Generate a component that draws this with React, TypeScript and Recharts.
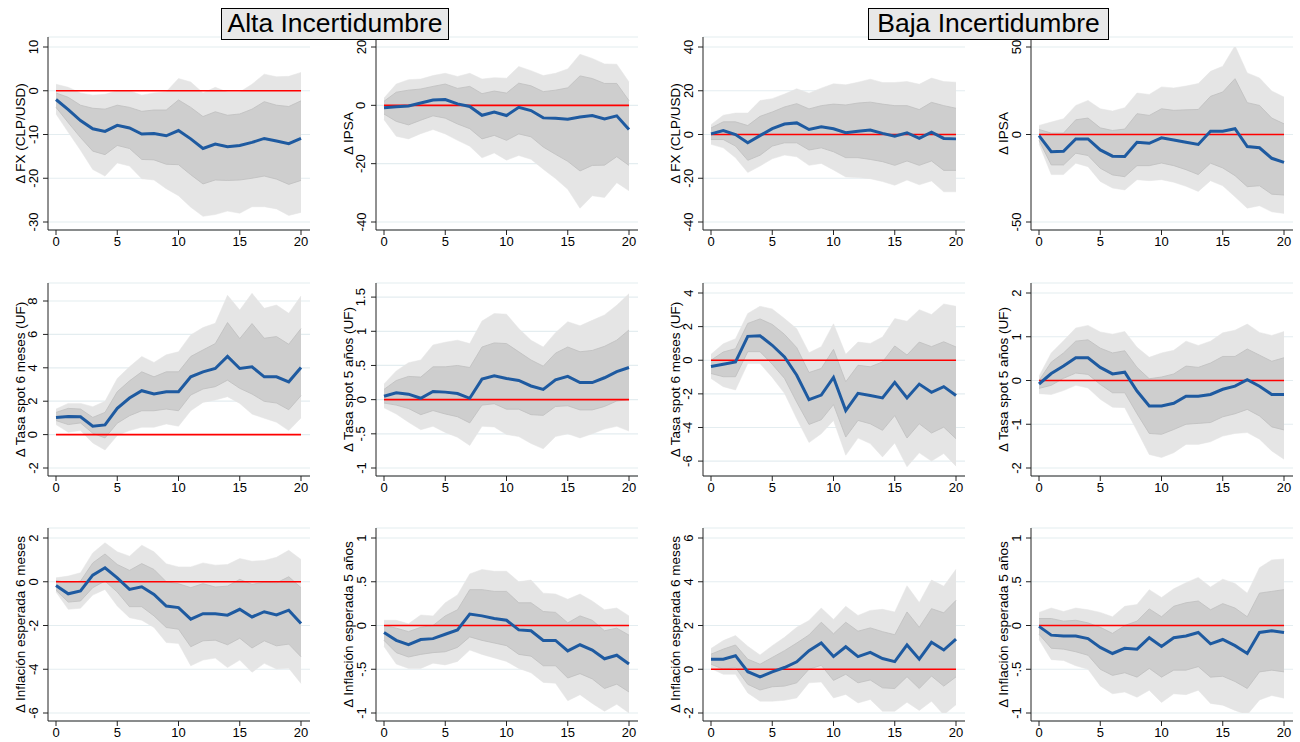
import React from "react";
import {
  Area,
  CartesianGrid,
  ComposedChart,
  Line,
  XAxis,
  YAxis,
} from "recharts";

const horizon = [0, 1, 2, 3, 4, 5, 6, 7, 8, 9, 10, 11, 12, 13, 14, 15, 16, 17, 18, 19, 20];

// Alta incertidumbre: FX
const altaFxIrf = [-2.0, -4.3, -6.8, -8.7, -9.3, -7.9, -8.5, -9.9, -9.8, -10.3, -9.1, -11.0, -13.2, -12.2, -12.8, -12.5, -11.8, -10.9, -11.5, -12.1, -10.9];
const altaFxHi90 = [1.5, 0.8, -0.5, -1.0, -0.8, 0, 0, -1.0, -0.5, -0.2, 2.8, 2.0, -0.5, 0.8, -0.3, -0.3, 1.5, 3.8, 3.2, 3.3, 4.2];
const altaFxHi68 = [-0.5, -1.5, -3.3, -4.0, -4.2, -3.3, -3.8, -4.7, -4.4, -4.4, -2.1, -3.8, -5.9, -4.8, -5.6, -5.3, -4.2, -2.5, -3.3, -3.6, -2.3];
const altaFxLo68 = [-3.8, -7.3, -10.7, -13.8, -14.6, -12.5, -13.2, -15.7, -15.8, -16.8, -16.9, -19.2, -21.3, -20.4, -20.5, -20.4, -20.0, -19.5, -20.2, -21.4, -20.5];
const altaFxLo90 = [-5.3, -9.5, -13.6, -18.0, -19.5, -16.5, -17.2, -20.1, -20.4, -22.4, -24.0, -26.6, -28.7, -28.3, -27.5, -28.0, -26.5, -26.5, -27.0, -28.5, -27.8];

// Alta incertidumbre: IPSA
const altaIpsaIrf = [-0.8, -0.5, -0.2, 0.8, 1.8, 2.0, 0.5, -0.4, -3.4, -2.3, -3.5, -0.7, -1.8, -4.3, -4.4, -4.8, -4.0, -3.5, -4.7, -3.6, -8.3];
const altaIpsaHi90 = [2.5, 7.3, 8.8, 9.0, 10.2, 11.0, 9.9, 11.0, 9.0, 9.5, 9.3, 13.3, 11.9, 10.2, 11.0, 12.5, 17.5, 16.1, 14.2, 14.1, 8.0];
const altaIpsaHi68 = [1.4, 4.5, 5.2, 5.6, 6.5, 7.3, 5.8, 6.5, 4.0, 4.9, 4.2, 7.6, 6.7, 4.7, 5.2, 6.0, 10.1, 9.2, 7.5, 7.5, 1.6];
const altaIpsaLo68 = [-3.0, -5.5, -6.7, -5.1, -3.6, -4.4, -6.4, -8.0, -11.5, -10.3, -12.0, -9.8, -10.8, -14.3, -16.8, -19.2, -22.5, -20.6, -20.5, -17.6, -20.6];
const altaIpsaLo90 = [-4.9, -10.6, -11.5, -9.7, -8.3, -9.8, -12.0, -14.0, -18.0, -16.3, -18.8, -17.2, -18.5, -21.9, -25.1, -28.8, -35.3, -31.0, -31.6, -26.5, -29.3];

// Baja incertidumbre: FX
const bajaFxIrf = [0.3, 1.8, 0, -3.8, -0.5, 2.7, 4.8, 5.3, 2.3, 3.5, 2.6, 0.8, 1.5, 2.0, 0.5, -0.8, 0.8, -1.8, 1.1, -1.8, -2.0];
const bajaFxHi90 = [4.5, 8.8, 9.8, 9.8, 15.5, 16.4, 18.5, 20.9, 18.9, 21.2, 23.2, 22.7, 23.9, 25.3, 23.8, 23.8, 24.2, 23.0, 25.8, 24.2, 23.9];
const bajaFxHi68 = [3.0, 5.8, 5.8, 4.1, 8.3, 10.3, 12.6, 14.1, 11.7, 13.2, 13.9, 13.5, 14.4, 14.8, 13.9, 13.2, 13.2, 11.4, 14.7, 13.2, 12.0];
const bajaFxLo68 = [-2.3, -2.3, -5.3, -11.8, -9.5, -5.3, -3.8, -3.8, -7.1, -6.1, -7.9, -10.6, -10.6, -11.4, -12.4, -14.1, -12.1, -14.1, -12.1, -16.4, -16.4];
const bajaFxLo90 = [-4.5, -6.1, -10.6, -17.4, -14.4, -11.1, -9.4, -10.2, -14.1, -13.2, -16.2, -19.4, -19.7, -20.2, -21.5, -23.2, -20.8, -23.0, -21.2, -26.2, -26.2];

// Baja incertidumbre: IPSA
const bajaIpsaIrf = [-0.6, -9.8, -9.6, -2.5, -2.5, -8.8, -12.4, -12.6, -4.4, -5.0, -1.9, -3.1, -4.4, -5.7, 1.9, 1.9, 3.3, -6.9, -7.6, -13.6, -15.9];
const bajaIpsaHi90 = [5.2, 7.1, 9.0, 16.6, 19.5, 14.7, 13.4, 15.3, 23.7, 22.9, 27.2, 26.6, 27.7, 29.1, 36.1, 39.0, 50.7, 35.2, 32.3, 24.9, 21.4];
const bajaIpsaHi68 = [2.9, 0.8, 0.8, 8.4, 9.4, 3.8, 2.3, 3.1, 11.9, 10.9, 14.7, 13.8, 14.1, 14.3, 21.8, 24.3, 31.9, 18.2, 16.6, 9.4, 6.1];
const bajaIpsaLo68 = [-3.4, -17.4, -17.4, -10.7, -12.0, -19.3, -23.1, -24.1, -17.8, -17.8, -16.3, -17.8, -20.1, -22.9, -16.4, -19.1, -23.5, -29.8, -29.3, -34.1, -34.6];
const bajaIpsaLo90 = [-5.4, -22.9, -22.9, -16.4, -18.4, -26.8, -30.6, -31.7, -25.8, -26.4, -25.8, -27.3, -29.6, -32.5, -26.4, -29.3, -35.6, -42.1, -40.7, -44.2, -45.1];

// Alta incertidumbre: tasa spot 6 meses
const altaS6Irf = [1.03, 1.09, 1.07, 0.5, 0.58, 1.57, 2.19, 2.63, 2.43, 2.57, 2.57, 3.46, 3.76, 3.96, 4.68, 3.96, 4.06, 3.46, 3.46, 3.16, 4.02];
const altaS6Hi90 = [1.53, 1.87, 1.87, 1.67, 1.99, 3.36, 4.06, 4.68, 4.32, 4.78, 4.96, 5.97, 6.41, 6.67, 8.34, 7.46, 8.46, 7.56, 7.76, 7.26, 8.3];
const altaS6Hi68 = [1.33, 1.57, 1.53, 1.03, 1.33, 2.57, 3.22, 3.76, 3.46, 3.76, 3.76, 4.68, 5.07, 5.45, 6.71, 5.75, 6.65, 5.77, 5.87, 5.41, 6.35];
const altaS6Lo68 = [0.84, 0.6, 0.7, 0.08, -0.2, 0.68, 1.13, 1.43, 1.43, 1.53, 1.43, 2.37, 2.73, 2.87, 3.26, 2.77, 2.43, 1.99, 1.89, 1.49, 2.33];
const altaS6Lo90 = [0.6, 0.14, 0.24, -0.5, -0.92, -0.06, 0.24, 0.44, 0.44, 0.64, 0.5, 1.43, 1.93, 2.07, 2.27, 1.87, 1.23, 0.98, 0.74, 0.24, 1.0];

// Alta incertidumbre: tasa spot 5 años
const altaS5Irf = [0.05, 0.1, 0.08, 0.02, 0.12, 0.11, 0.09, 0.02, 0.3, 0.35, 0.31, 0.28, 0.2, 0.15, 0.29, 0.34, 0.25, 0.25, 0.32, 0.41, 0.47];
const altaS5Hi90 = [0.23, 0.42, 0.54, 0.58, 0.8, 0.84, 0.87, 0.82, 1.15, 1.26, 1.25, 1.04, 0.87, 0.77, 0.98, 1.14, 1.08, 1.16, 1.24, 1.38, 1.55];
const altaS5Hi68 = [0.15, 0.28, 0.34, 0.33, 0.48, 0.48, 0.5, 0.47, 0.77, 0.83, 0.82, 0.7, 0.58, 0.49, 0.68, 0.77, 0.7, 0.72, 0.78, 0.87, 1.02];
const altaS5Lo68 = [-0.05, -0.08, -0.13, -0.22, -0.16, -0.21, -0.25, -0.34, -0.08, -0.06, -0.14, -0.14, -0.22, -0.23, -0.1, -0.09, -0.15, -0.15, -0.1, -0.02, 0];
const altaS5Lo90 = [-0.12, -0.21, -0.33, -0.44, -0.39, -0.48, -0.55, -0.67, -0.39, -0.4, -0.51, -0.54, -0.64, -0.72, -0.54, -0.5, -0.56, -0.5, -0.43, -0.39, -0.46];

// Baja incertidumbre: tasa spot 6 meses
const bajaS6Irf = [-0.37, -0.24, -0.1, 1.42, 1.46, 0.89, 0.2, -0.89, -2.34, -2.07, -1.02, -2.99, -1.97, -2.1, -2.24, -1.32, -2.24, -1.42, -1.91, -1.57, -2.1];
const bajaS6Hi90 = [0.35, 0.98, 1.28, 2.78, 3.21, 3.05, 2.48, 1.87, 0.45, 0.81, 2.17, 0.35, 1.08, 1.0, 1.38, 2.48, 2.32, 3.01, 2.72, 3.35, 3.21];
const bajaS6Hi68 = [0, 0.49, 0.69, 2.19, 2.46, 2.13, 1.54, 0.75, -0.73, -0.49, 0.65, -1.28, -0.3, -0.39, -0.1, 0.85, 0.31, 1.08, 0.81, 1.1, 0.79];
const bajaS6Lo68 = [-0.79, -0.98, -0.98, 0.51, 0.51, -0.24, -1.08, -2.5, -3.82, -3.54, -2.64, -4.57, -3.58, -3.78, -4.17, -3.29, -4.63, -3.78, -4.33, -3.98, -4.67];
const bajaS6Lo90 = [-1.08, -1.57, -1.77, -0.2, -0.2, -1.02, -1.97, -3.48, -4.9, -4.37, -3.58, -5.65, -4.63, -4.96, -5.75, -4.92, -6.34, -5.51, -6.0, -5.55, -6.3];

// Baja incertidumbre: tasa spot 5 años
const bajaS5Irf = [-0.08, 0.16, 0.33, 0.52, 0.52, 0.3, 0.15, 0.19, -0.24, -0.58, -0.58, -0.52, -0.36, -0.36, -0.32, -0.2, -0.13, 0.02, -0.13, -0.32, -0.32];
const bajaS5Hi90 = [0.1, 0.63, 0.91, 1.2, 1.26, 1.11, 1.06, 1.12, 0.76, 0.53, 0.63, 0.69, 0.9, 0.8, 0.9, 1.09, 1.15, 1.29, 1.1, 1.03, 1.12];
const bajaS5Hi68 = [0, 0.42, 0.63, 0.9, 0.93, 0.74, 0.63, 0.68, 0.3, 0.04, 0.08, 0.15, 0.33, 0.3, 0.4, 0.55, 0.55, 0.72, 0.58, 0.44, 0.52];
const bajaS5Lo68 = [-0.18, -0.11, 0.05, 0.17, 0.14, -0.09, -0.28, -0.28, -0.76, -1.21, -1.23, -1.12, -1.0, -0.98, -0.96, -0.83, -0.76, -0.66, -0.81, -1.06, -1.13];
const bajaS5Lo90 = [-0.3, -0.32, -0.23, -0.11, -0.17, -0.43, -0.61, -0.62, -1.15, -1.69, -1.76, -1.65, -1.46, -1.46, -1.4, -1.27, -1.21, -1.19, -1.34, -1.61, -1.8];

// Alta incertidumbre: inflación esperada 6 meses
const altaI6Irf = [-0.17, -0.55, -0.42, 0.3, 0.64, 0.18, -0.35, -0.23, -0.58, -1.11, -1.18, -1.71, -1.46, -1.46, -1.53, -1.26, -1.61, -1.37, -1.52, -1.3, -1.91];
const altaI6Hi90 = [0.18, 0.26, 0.41, 1.32, 1.78, 1.37, 1.17, 1.67, 1.37, 0.82, 0.68, 0.68, 0.86, 0.76, 0.79, 1.06, 0.94, 0.97, 1.12, 1.44, 1.02];
const altaI6Hi68 = [0.06, -0.05, 0.03, 0.86, 1.27, 0.79, 0.52, 0.83, 0.56, 0, -0.09, -0.27, -0.09, -0.24, -0.2, 0.11, -0.12, -0.02, -0.05, 0.23, -0.27];
const altaI6Lo68 = [-0.39, -0.93, -0.88, -0.27, 0.03, -0.47, -1.14, -1.14, -1.56, -2.09, -2.17, -2.97, -2.7, -2.67, -2.88, -2.58, -3.03, -2.7, -2.93, -2.85, -3.43];
const altaI6Lo90 = [-0.47, -1.26, -1.21, -0.61, -0.35, -1.11, -1.64, -1.76, -2.09, -2.78, -2.82, -3.84, -3.58, -3.49, -3.92, -3.58, -4.14, -3.73, -3.99, -3.95, -4.65];

// Alta incertidumbre: inflación esperada 5 años
const altaI5Irf = [-0.08, -0.17, -0.22, -0.16, -0.15, -0.1, -0.05, 0.13, 0.11, 0.08, 0.06, -0.05, -0.06, -0.17, -0.17, -0.29, -0.22, -0.28, -0.38, -0.34, -0.44];
const altaI5Hi90 = [0.06, 0.06, 0.02, 0.12, 0.11, 0.26, 0.35, 0.59, 0.64, 0.62, 0.62, 0.5, 0.52, 0.37, 0.36, 0.3, 0.36, 0.28, 0.18, 0.2, 0.11];
const altaI5Hi68 = [0, -0.03, -0.07, -0.02, 0, 0.11, 0.18, 0.41, 0.41, 0.39, 0.39, 0.26, 0.26, 0.16, 0.15, 0.03, 0.11, 0.06, -0.06, -0.03, -0.11];
const altaI5Lo68 = [-0.17, -0.31, -0.36, -0.33, -0.31, -0.3, -0.25, -0.13, -0.17, -0.2, -0.23, -0.33, -0.35, -0.46, -0.46, -0.6, -0.55, -0.61, -0.72, -0.67, -0.76];
const altaI5Lo90 = [-0.24, -0.44, -0.49, -0.49, -0.43, -0.45, -0.41, -0.28, -0.33, -0.37, -0.41, -0.49, -0.54, -0.65, -0.66, -0.86, -0.79, -0.89, -0.98, -0.9, -1.0];

// Baja incertidumbre: inflación esperada 6 meses
const bajaI6Irf = [0.46, 0.46, 0.62, -0.11, -0.35, -0.12, 0.08, 0.34, 0.85, 1.2, 0.58, 1.03, 0.58, 0.77, 0.49, 0.35, 1.11, 0.46, 1.23, 0.88, 1.38];
const bajaI6Hi90 = [0.95, 1.31, 1.54, 1.05, 0.65, 1.08, 1.46, 1.92, 2.23, 2.8, 2.28, 2.88, 2.46, 2.69, 2.74, 2.62, 3.82, 3.05, 4.08, 3.8, 4.57];
const bajaI6Hi68 = [0.69, 0.92, 1.11, 0.46, 0.23, 0.54, 0.85, 1.2, 1.57, 2.15, 1.62, 2.15, 1.74, 1.89, 1.72, 1.58, 2.62, 1.92, 2.77, 2.58, 3.15];
const bajaI6Lo68 = [0.23, 0, 0.08, -0.69, -0.95, -0.8, -0.77, -0.62, 0, 0.18, -0.51, -0.23, -0.62, -0.49, -0.85, -0.88, -0.34, -0.88, -0.31, -0.77, -0.35];
const bajaI6Lo90 = [0.03, -0.23, -0.23, -1.08, -1.46, -1.46, -1.42, -1.31, -0.62, -0.58, -1.31, -1.15, -1.54, -1.38, -1.92, -1.92, -1.51, -1.88, -1.46, -2.08, -1.62];

// Baja incertidumbre: inflación esperada 5 años
const bajaI5Irf = [-0.01, -0.11, -0.12, -0.12, -0.15, -0.25, -0.32, -0.26, -0.27, -0.14, -0.24, -0.14, -0.12, -0.08, -0.21, -0.16, -0.23, -0.32, -0.08, -0.06, -0.08];
const bajaI5Hi90 = [0.15, 0.2, 0.16, 0.2, 0.18, 0.15, 0.1, 0.22, 0.24, 0.41, 0.32, 0.42, 0.49, 0.55, 0.44, 0.53, 0.48, 0.37, 0.66, 0.75, 0.76];
const bajaI5Hi68 = [0.08, 0.08, 0.05, 0.06, 0.03, -0.02, -0.09, 0, 0.05, 0.19, 0.1, 0.22, 0.26, 0.28, 0.18, 0.25, 0.2, 0.1, 0.37, 0.39, 0.41];
const bajaI5Lo68 = [-0.1, -0.26, -0.27, -0.3, -0.34, -0.5, -0.57, -0.54, -0.59, -0.49, -0.59, -0.51, -0.51, -0.47, -0.59, -0.58, -0.64, -0.72, -0.53, -0.51, -0.53];
const bajaI5Lo90 = [-0.16, -0.39, -0.4, -0.46, -0.5, -0.69, -0.78, -0.76, -0.82, -0.74, -0.88, -0.78, -0.79, -0.74, -0.89, -0.91, -0.97, -1.02, -0.85, -0.8, -0.83];

const xTicks = [0, 5, 10, 15, 20];

const FONT = "'Liberation Sans', Arial, Helvetica, sans-serif";
const BAND90 = "#e5e5e5";
const BAND68 = "#cecece";
const IRF_BLUE = "#1e5aa0";

// plot frame geometry (axis lines), in page pixels
const colX = [48, 376, 703, 1031];
const rowTop = [37, 283, 528];
const PLOT_W = 262;
const PLOT_H = 193;
const AXIS_W = 48;

type PanelSpec = {
  label: string;
  col: number;
  row: number;
  domain: [number, number];
  ticks: number[];
  irf: number[];
  lo90: number[];
  hi90: number[];
  lo68: number[];
  hi68: number[];
};

const panels: PanelSpec[] = [
  { label: "Δ FX (CLP/USD)", col: 0, row: 0, domain: [-30, 10], ticks: [-30, -20, -10, 0, 10], irf: altaFxIrf, lo90: altaFxLo90, hi90: altaFxHi90, lo68: altaFxLo68, hi68: altaFxHi68 },
  { label: "Δ IPSA", col: 1, row: 0, domain: [-40, 20], ticks: [-40, -20, 0, 20], irf: altaIpsaIrf, lo90: altaIpsaLo90, hi90: altaIpsaHi90, lo68: altaIpsaLo68, hi68: altaIpsaHi68 },
  { label: "Δ FX (CLP/USD)", col: 2, row: 0, domain: [-40, 40], ticks: [-40, -20, 0, 20, 40], irf: bajaFxIrf, lo90: bajaFxLo90, hi90: bajaFxHi90, lo68: bajaFxLo68, hi68: bajaFxHi68 },
  { label: "Δ IPSA", col: 3, row: 0, domain: [-50, 50], ticks: [-50, 0, 50], irf: bajaIpsaIrf, lo90: bajaIpsaLo90, hi90: bajaIpsaHi90, lo68: bajaIpsaLo68, hi68: bajaIpsaHi68 },
  { label: "Δ Tasa spot 6 meses (UF)", col: 0, row: 1, domain: [-2, 8.48], ticks: [-2, 0, 2, 4, 6, 8], irf: altaS6Irf, lo90: altaS6Lo90, hi90: altaS6Hi90, lo68: altaS6Lo68, hi68: altaS6Hi68 },
  { label: "Δ Tasa spot 5 años (UF)", col: 1, row: 1, domain: [-1, 1.56], ticks: [-1, -0.5, 0, 0.5, 1, 1.5], irf: altaS5Irf, lo90: altaS5Lo90, hi90: altaS5Hi90, lo68: altaS5Lo68, hi68: altaS5Hi68 },
  { label: "Δ Tasa spot 6 meses (UF)", col: 2, row: 1, domain: [-6.41, 4], ticks: [-6, -4, -2, 0, 2, 4], irf: bajaS6Irf, lo90: bajaS6Lo90, hi90: bajaS6Hi90, lo68: bajaS6Lo68, hi68: bajaS6Hi68 },
  { label: "Δ Tasa spot 5 años (UF)", col: 3, row: 1, domain: [-2, 2], ticks: [-2, -1, 0, 1, 2], irf: bajaS5Irf, lo90: bajaS5Lo90, hi90: bajaS5Hi90, lo68: bajaS5Lo68, hi68: bajaS5Hi68 },
  { label: "Δ Inflación esperada 6 meses", col: 0, row: 2, domain: [-6, 2], ticks: [-6, -4, -2, 0, 2], irf: altaI6Irf, lo90: altaI6Lo90, hi90: altaI6Hi90, lo68: altaI6Lo68, hi68: altaI6Hi68 },
  { label: "Δ Inflación esperada 5 años", col: 1, row: 2, domain: [-1, 1], ticks: [-1, -0.5, 0, 0.5, 1], irf: altaI5Irf, lo90: altaI5Lo90, hi90: altaI5Hi90, lo68: altaI5Lo68, hi68: altaI5Hi68 },
  { label: "Δ Inflación esperada 6 meses", col: 2, row: 2, domain: [-2, 6], ticks: [-2, 0, 2, 4, 6], irf: bajaI6Irf, lo90: bajaI6Lo90, hi90: bajaI6Hi90, lo68: bajaI6Lo68, hi68: bajaI6Hi68 },
  { label: "Δ Inflación esperada 5 años", col: 3, row: 2, domain: [-1, 1], ticks: [-1, -0.5, 0, 0.5, 1], irf: bajaI5Irf, lo90: bajaI5Lo90, hi90: bajaI5Hi90, lo68: bajaI5Lo68, hi68: bajaI5Hi68 },
];

// Stata-style labels: ".5", "-.5", "1.5"
const fmtTick = (v: number) => String(v).replace(/^(-?)0\./, "$1.");

const YTick = (props: any) => {
  const { x, y, payload } = props;
  const tx = x - 5.5;
  return (
    <text
      x={tx}
      y={y}
      transform={`rotate(-90 ${tx} ${y})`}
      textAnchor="middle"
      fontSize={13}
      fontFamily={FONT}
      fill="#000"
    >
      {fmtTick(payload.value)}
    </text>
  );
};

const Panel = ({ spec }: { spec: PanelSpec }) => {
  const data = horizon.map((h, i) => ({
    h,
    irf: spec.irf[i],
    zero: 0,
    b90: [spec.lo90[i], spec.hi90[i]],
    b68: [spec.lo68[i], spec.hi68[i]],
  }));
  const left = colX[spec.col] - AXIS_W;
  const top = rowTop[spec.row] - 10;

  return (
    <div style={{ position: "absolute", left, top }}>
      <ComposedChart
        width={AXIS_W + PLOT_W + 10}
        height={10 + PLOT_H + 30}
        data={data}
        margin={{ top: 10, right: 10, left: 0, bottom: 0 }}
      >
        <CartesianGrid vertical={false} stroke="#e4edf0" strokeWidth={1.2} />
        <XAxis
          dataKey="h"
          type="number"
          domain={[0, 20]}
          ticks={xTicks}
          padding={{ left: 8, right: 9 }}
          height={30}
          tickSize={5}
          tickMargin={2}
          stroke="#222"
          tick={{ fill: "#000", fontSize: 13, fontFamily: FONT }}
        />
        <YAxis
          type="number"
          domain={spec.domain}
          ticks={spec.ticks}
          allowDataOverflow
          width={AXIS_W}
          padding={{ top: 10, bottom: 8 }}
          tickSize={5}
          tickMargin={0}
          stroke="#222"
          tick={<YTick />}
          interval={0}
        />
        <Area
          dataKey="b90"
          fill={BAND90}
          fillOpacity={1}
          stroke={BAND90}
          strokeWidth={0.5}
          isAnimationActive={false}
          dot={false}
          activeDot={false}
        />
        <Area
          dataKey="b68"
          fill={BAND68}
          fillOpacity={1}
          stroke="#bfbfbf"
          strokeWidth={0.8}
          isAnimationActive={false}
          dot={false}
          activeDot={false}
        />
        <Line
          dataKey="zero"
          stroke="#ff0000"
          strokeWidth={1.6}
          dot={false}
          activeDot={false}
          isAnimationActive={false}
        />
        <Line
          dataKey="irf"
          stroke={IRF_BLUE}
          strokeWidth={3}
          dot={false}
          activeDot={false}
          isAnimationActive={false}
        />
      </ComposedChart>
    </div>
  );
};

const titleBox = (text: string, left: number, width: number) => (
  <div
    style={{
      position: "absolute",
      left,
      top: 8,
      width,
      height: 32,
      boxSizing: "border-box",
      border: "1.5px solid #000",
      background: "#e8e8e8",
      fontFamily: FONT,
      fontSize: 26.5,
      lineHeight: "29px",
      textAlign: "center",
      color: "#000",
      whiteSpace: "nowrap",
    }}
  >
    {text}
  </div>
);

export default function App() {
  return (
    <div
      style={{
        position: "absolute",
        left: 0,
        top: 0,
        width: 1300,
        height: 742,
        background: "#fff",
        overflow: "hidden",
      }}
    >
      {panels.map((p, i) => (
        <Panel key={i} spec={p} />
      ))}
      <svg
        width={1300}
        height={742}
        style={{ position: "absolute", left: 0, top: 0, pointerEvents: "none" }}
      >
        {panels.map((p, i) => {
          const x = colX[p.col] - 23;
          const y = rowTop[p.row] + PLOT_H / 2;
          return (
            <text
              key={i}
              x={x}
              y={y}
              transform={`rotate(-90 ${x} ${y})`}
              textAnchor="middle"
              fontSize={13.5}
              fontFamily={FONT}
              fill="#000"
            >
              {p.label}
            </text>
          );
        })}
      </svg>
      {titleBox("Alta Incertidumbre", 221, 228)}
      {titleBox("Baja Incertidumbre", 868, 241)}
    </div>
  );
}
